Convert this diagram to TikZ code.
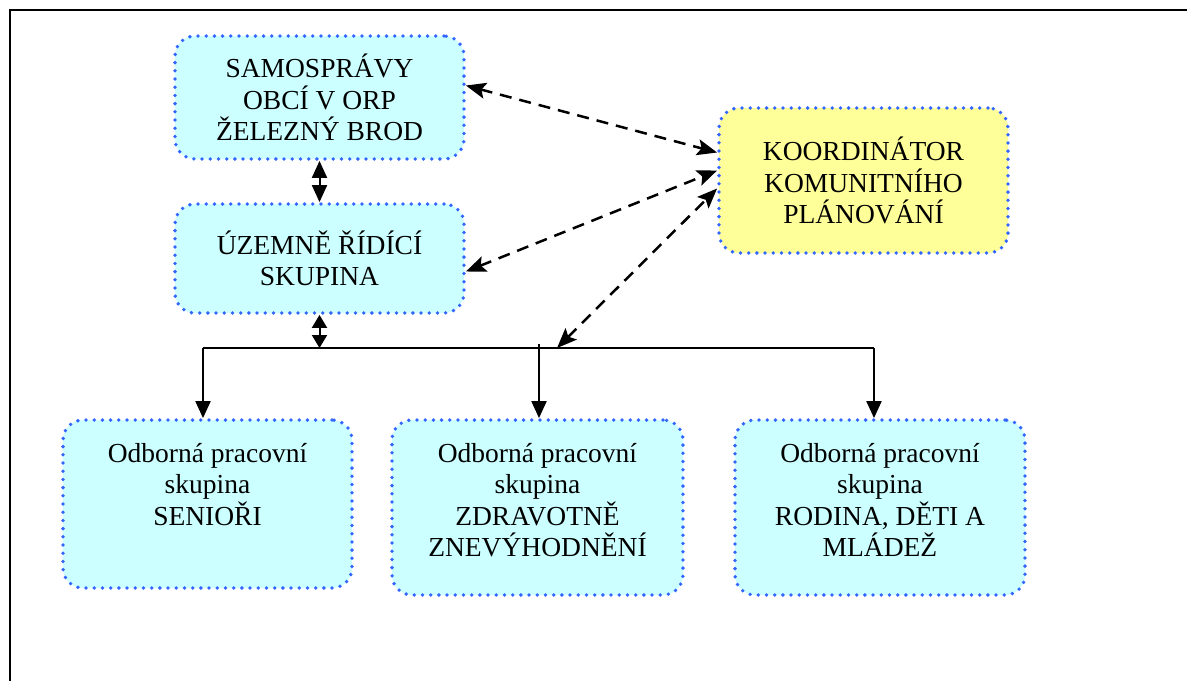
\documentclass[tikz,border=0pt]{standalone}
\usepackage{fontspec}
\setmainfont{Liberation Serif}
\usetikzlibrary{arrows.meta,positioning}
\definecolor{dotblue}{RGB}{51,102,255}
\definecolor{boxcyan}{RGB}{204,255,255}
\definecolor{boxyellow}{RGB}{255,255,153}
\begin{document}
\begin{tikzpicture}[x=1pt,y=-1pt,
        box/.style={draw=dotblue, line width=3.8pt, dash pattern=on 0pt off 8.2pt, line cap=round, rounded corners=20pt, fill=boxcyan, minimum width=289pt, inner sep=0pt, align=center, font=\fontsize{27.5}{31.5}\selectfont},
        txt/.style={inner sep=0pt, align=center, font=\fontsize{27.5}{31.5}\selectfont},
        link/.style={line width=2pt},
        tip/.style={-{Triangle[length=17pt,width=15pt]}},
        dual/.style={{Triangle[length=17pt,width=15pt]}-{Triangle[length=17pt,width=15pt]}},
        shortdual/.style={{Triangle[length=13pt,width=15pt]}-{Triangle[length=13pt,width=15pt]}},
        coop/.style={line width=2.5pt, dash pattern=on 12pt off 8pt, {Stealth[length=20pt,width=16pt,inset=4pt]}-{Stealth[length=20pt,width=16pt,inset=4pt]}}]
        \useasboundingbox (0,0) rectangle (1187,681);
        \draw[line width=2pt] (10,681) -- (10,10) -- (1187,10);
        \node[box, minimum height=123pt] (sam) at (319.5,97.5) {SAMOSPRÁVY\\OBCÍ V ORP\\ŽELEZNÝ BROD};
        \node[box, minimum height=109pt] (uzs) at (319.5,258.5) {ÚZEMNĚ ŘÍDÍCÍ\\SKUPINA};
        \node[box, fill=boxyellow, minimum height=145pt] (koord) at (863.5,180.5) {KOORDINÁTOR\\KOMUNITNÍHO\\PLÁNOVÁNÍ};
        \node[box, minimum height=168pt] (sen) at (207.5,504) {};
        \node[box, minimum width=291pt, minimum height=175pt] (zdr) at (537.5,507.5) {};
        \node[box, minimum width=290pt, minimum height=175pt] (rod) at (880,507.5) {};
        \node[txt, below=25pt of sen.north] (sentxt) {Odborná pracovní\\skupina\\SENIOŘI};
        \node[txt, below=25pt of zdr.north] (zdrtxt) {Odborná pracovní\\skupina\\ZDRAVOTNĚ\\ZNEVÝHODNĚNÍ};
        \node[txt, below=25pt of rod.north] (rodtxt) {Odborná pracovní\\skupina\\RODINA, DĚTI A\\MLÁDEŽ};
        \coordinate (busl) at (203,348);
        \coordinate (busr) at (874,348);
        \coordinate (busm) at (539,344);
        \coordinate (busu) at (319.5,348);
        \coordinate (buskp) at (557,348);
        \draw[link] (busl) -- (busr);
        \draw[link, tip] (busl) -- (busl |- sen.north);
        \draw[link, tip] (busm) -- (busm |- zdr.north);
        \draw[link, tip] (busr) -- (busr |- rod.north);
        \draw[link, dual] (sam) -- (uzs);
        \draw[link, shortdual] (uzs) -- (busu);
        \draw[coop] ([yshift=12pt]sam.east) -- ([yshift=28pt]koord.west);
        \draw[coop] ([yshift=-13pt]uzs.east) -- ([yshift=10pt]koord.west);
        \draw[coop] (buskp) -- ([yshift=-8pt]koord.west);
    \end{tikzpicture}
\end{document}
